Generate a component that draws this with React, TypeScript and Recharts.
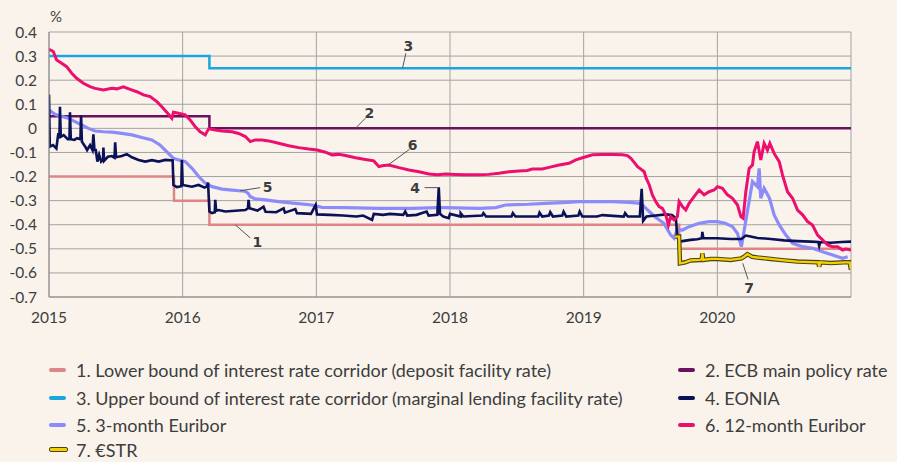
import React from "react";
import {
  LineChart,
  Line,
  XAxis,
  YAxis,
  CartesianGrid,
  ReferenceLine,
  ReferenceDot,
} from "recharts";

type Pt = [number, number];

// ---- categories / ticks ----
const yearTicks = [2015, 2016, 2017, 2018, 2019, 2020, 2021];
const valueTicks = [-0.7, -0.6, -0.5, -0.4, -0.3, -0.2, -0.1, 0, 0.1, 0.2, 0.3, 0.4];

// ---- series (decimal year, %) ----
const depositRate: Pt[] = [
  [2015.0, -0.2], [2015.935, -0.3], [2016.2, -0.4], [2019.715, -0.5], [2021.0, -0.5],
];
const mainRate: Pt[] = [
  [2015.0, 0.05], [2016.2, 0.0], [2021.0, 0.0],
];
const lendingRate: Pt[] = [
  [2015.0, 0.3], [2016.2, 0.25], [2021.0, 0.25],
];

const eonia: Pt[] = [
  [2015.0, 0.14], [2015.006, -0.076], [2015.03, -0.069], [2015.055, -0.083], [2015.07, -0.02],
  [2015.078, -0.04], [2015.082, 0.09], [2015.088, -0.035], [2015.11, -0.028], [2015.14, -0.045],
  [2015.153, -0.045], [2015.157, 0.067], [2015.163, -0.045], [2015.19, -0.048], [2015.21, -0.041],
  [2015.235, -0.045], [2015.24, 0.053], [2015.246, -0.055], [2015.27, -0.075], [2015.285, -0.09],
  [2015.307, -0.07], [2015.325, -0.09], [2015.332, -0.025], [2015.34, -0.09], [2015.35, -0.09],
  [2015.362, -0.138], [2015.375, -0.11], [2015.39, -0.138], [2015.404, -0.13], [2015.407, -0.08],
  [2015.412, -0.135], [2015.44, -0.118], [2015.47, -0.115], [2015.49, -0.122], [2015.495, -0.058],
  [2015.502, -0.12], [2015.545, -0.115], [2015.582, -0.107], [2015.62, -0.12], [2015.67, -0.131],
  [2015.72, -0.138], [2015.77, -0.132], [2015.82, -0.138], [2015.87, -0.131], [2015.925, -0.133],
  [2015.931, -0.235], [2015.956, -0.244], [2015.99, -0.24], [2015.994, -0.131], [2016.0, -0.235],
  [2016.069, -0.242], [2016.119, -0.235], [2016.165, -0.246], [2016.183, -0.24], [2016.19, -0.225],
  [2016.2, -0.345], [2016.219, -0.352], [2016.24, -0.348], [2016.244, -0.297], [2016.25, -0.342],
  [2016.269, -0.339], [2016.319, -0.345], [2016.394, -0.342], [2016.469, -0.339], [2016.488, -0.332],
  [2016.493, -0.297], [2016.5, -0.332], [2016.56, -0.341], [2016.605, -0.325], [2016.62, -0.346],
  [2016.7, -0.348], [2016.755, -0.332], [2016.765, -0.35], [2016.843, -0.335], [2016.855, -0.352],
  [2016.96, -0.355], [2016.995, -0.318], [2017.005, -0.357], [2017.1, -0.359], [2017.2, -0.362],
  [2017.3, -0.366], [2017.35, -0.362], [2017.417, -0.38], [2017.43, -0.355], [2017.5, -0.359],
  [2017.55, -0.355], [2017.65, -0.359], [2017.665, -0.345], [2017.68, -0.362], [2017.75, -0.359],
  [2017.825, -0.345], [2017.84, -0.362], [2017.905, -0.359], [2017.916, -0.245], [2017.925, -0.355],
  [2017.95, -0.366], [2017.99, -0.373], [2018.0, -0.355], [2018.08, -0.366], [2018.08, -0.352],
  [2018.1, -0.366], [2018.24, -0.362], [2018.25, -0.352], [2018.27, -0.366], [2018.46, -0.366],
  [2018.47, -0.352], [2018.49, -0.366], [2018.66, -0.366], [2018.67, -0.35], [2018.69, -0.366],
  [2018.74, -0.362], [2018.75, -0.348], [2018.77, -0.366], [2018.84, -0.362], [2018.85, -0.346],
  [2018.87, -0.366], [2018.96, -0.362], [2018.97, -0.345], [2018.99, -0.366], [2019.1, -0.366],
  [2019.14, -0.36], [2019.3, -0.366], [2019.31, -0.352], [2019.33, -0.366], [2019.42, -0.366],
  [2019.434, -0.251], [2019.445, -0.384], [2019.47, -0.366], [2019.54, -0.362], [2019.614, -0.357],
  [2019.66, -0.36], [2019.69, -0.373], [2019.7, -0.45], [2019.72, -0.47], [2019.75, -0.467],
  [2019.8, -0.463], [2019.85, -0.46], [2019.884, -0.456], [2019.888, -0.43], [2019.895, -0.456],
  [2019.95, -0.456], [2020.0, -0.456], [2020.1, -0.459], [2020.18, -0.459], [2020.213, -0.445],
  [2020.24, -0.448], [2020.3, -0.455], [2020.4, -0.459], [2020.5, -0.465], [2020.6, -0.468],
  [2020.7, -0.47], [2020.755, -0.472], [2020.762, -0.488], [2020.77, -0.472], [2020.85, -0.475],
  [2020.93, -0.472], [2021.0, -0.47],
];

const euribor3m: Pt[] = [
  [2015.0, 0.076], [2015.045, 0.058], [2015.095, 0.049], [2015.145, 0.042], [2015.195, 0.028],
  [2015.245, 0.014], [2015.295, 0.0], [2015.345, -0.011], [2015.407, -0.014], [2015.47, -0.016],
  [2015.545, -0.021], [2015.62, -0.027], [2015.695, -0.038], [2015.77, -0.048], [2015.83, -0.069],
  [2015.88, -0.097], [2015.93, -0.124], [2015.97, -0.131], [2016.02, -0.138], [2016.07, -0.166],
  [2016.12, -0.2], [2016.17, -0.228], [2016.22, -0.242], [2016.295, -0.252], [2016.37, -0.256],
  [2016.445, -0.26], [2016.47, -0.262], [2016.49, -0.27], [2016.505, -0.283], [2016.543, -0.293],
  [2016.618, -0.297], [2016.718, -0.304], [2016.843, -0.311], [2016.968, -0.318], [2017.042, -0.328],
  [2017.217, -0.329], [2017.467, -0.332], [2017.717, -0.332], [2017.904, -0.329], [2017.966, -0.329],
  [2018.216, -0.332], [2018.341, -0.329], [2018.415, -0.318], [2018.59, -0.315], [2018.715, -0.311],
  [2018.84, -0.308], [2018.965, -0.304], [2019.09, -0.304], [2019.215, -0.304], [2019.34, -0.307],
  [2019.43, -0.311], [2019.452, -0.325], [2019.53, -0.366], [2019.6, -0.394], [2019.65, -0.442],
  [2019.676, -0.456], [2019.7, -0.42], [2019.739, -0.422], [2019.789, -0.408], [2019.864, -0.394],
  [2019.938, -0.387], [2020.0, -0.387], [2020.06, -0.394], [2020.113, -0.408], [2020.15, -0.435],
  [2020.18, -0.491], [2020.263, -0.221], [2020.3, -0.242], [2020.313, -0.166], [2020.325, -0.29],
  [2020.35, -0.249], [2020.39, -0.29], [2020.425, -0.359], [2020.463, -0.401], [2020.513, -0.443],
  [2020.563, -0.477], [2020.638, -0.491], [2020.712, -0.498], [2020.787, -0.512], [2020.862, -0.526],
  [2020.937, -0.539], [2020.975, -0.533],
];

const euribor12m: Pt[] = [
  [2015.0, 0.328], [2015.032, 0.319], [2015.057, 0.284], [2015.095, 0.27], [2015.132, 0.256],
  [2015.17, 0.229], [2015.207, 0.208], [2015.257, 0.187], [2015.307, 0.173], [2015.345, 0.166],
  [2015.407, 0.159], [2015.47, 0.166], [2015.507, 0.164], [2015.557, 0.172], [2015.607, 0.162],
  [2015.657, 0.152], [2015.707, 0.139], [2015.757, 0.132], [2015.807, 0.111], [2015.844, 0.09],
  [2015.881, 0.067], [2015.919, 0.042], [2015.931, 0.067], [2015.969, 0.063], [2016.019, 0.056],
  [2016.056, 0.035], [2016.094, 0.007], [2016.131, -0.014], [2016.169, -0.027], [2016.194, -0.002],
  [2016.244, -0.007], [2016.294, -0.011], [2016.369, -0.014], [2016.419, -0.021], [2016.469, -0.034],
  [2016.506, -0.055], [2016.543, -0.048], [2016.593, -0.048], [2016.643, -0.052], [2016.718, -0.062],
  [2016.793, -0.072], [2016.868, -0.08], [2016.943, -0.086], [2017.006, -0.09], [2017.068, -0.099],
  [2017.118, -0.11], [2017.168, -0.108], [2017.218, -0.113], [2017.293, -0.122], [2017.367, -0.129],
  [2017.43, -0.135], [2017.468, -0.159], [2017.493, -0.155], [2017.543, -0.152], [2017.618, -0.163],
  [2017.693, -0.173], [2017.768, -0.18], [2017.843, -0.189], [2017.905, -0.193], [2017.968, -0.189],
  [2018.041, -0.191], [2018.116, -0.193], [2018.216, -0.193], [2018.291, -0.191], [2018.366, -0.186],
  [2018.441, -0.18], [2018.516, -0.177], [2018.578, -0.175], [2018.616, -0.169], [2018.691, -0.169],
  [2018.741, -0.162], [2018.816, -0.152], [2018.891, -0.145], [2018.941, -0.131], [2018.991, -0.122],
  [2019.066, -0.11], [2019.141, -0.108], [2019.216, -0.108], [2019.291, -0.11], [2019.328, -0.113],
  [2019.353, -0.124], [2019.378, -0.141], [2019.403, -0.159], [2019.428, -0.169], [2019.453, -0.18],
  [2019.466, -0.205], [2019.491, -0.235], [2019.514, -0.276], [2019.539, -0.304], [2019.564, -0.325],
  [2019.589, -0.332], [2019.614, -0.359], [2019.634, -0.401], [2019.651, -0.366], [2019.676, -0.38],
  [2019.701, -0.366], [2019.714, -0.304], [2019.739, -0.325], [2019.764, -0.339], [2019.789, -0.311],
  [2019.826, -0.283], [2019.864, -0.256], [2019.901, -0.276], [2019.938, -0.263], [2019.976, -0.256],
  [2020.001, -0.242], [2020.038, -0.249], [2020.076, -0.276], [2020.113, -0.29], [2020.151, -0.318],
  [2020.176, -0.366], [2020.193, -0.373], [2020.213, -0.263], [2020.238, -0.166], [2020.263, -0.152],
  [2020.275, -0.097], [2020.3, -0.055], [2020.325, -0.131], [2020.35, -0.062], [2020.375, -0.09],
  [2020.393, -0.062], [2020.425, -0.104], [2020.463, -0.138], [2020.488, -0.194], [2020.525, -0.263],
  [2020.563, -0.29], [2020.6, -0.339], [2020.638, -0.359], [2020.675, -0.387], [2020.712, -0.401],
  [2020.75, -0.443], [2020.787, -0.463], [2020.825, -0.484], [2020.862, -0.491], [2020.9, -0.491],
  [2020.937, -0.505], [2020.962, -0.501], [2021.0, -0.505],
];

const estr: Pt[] = [
  [2019.684, -0.449], [2019.714, -0.449], [2019.72, -0.56], [2019.76, -0.556], [2019.8, -0.548],
  [2019.87, -0.546], [2019.884, -0.544], [2019.888, -0.519], [2019.895, -0.546], [2019.95, -0.542],
  [2020.0, -0.542], [2020.1, -0.546], [2020.18, -0.54], [2020.2, -0.533], [2020.225, -0.522],
  [2020.26, -0.533], [2020.3, -0.536], [2020.4, -0.542], [2020.5, -0.548], [2020.6, -0.553],
  [2020.7, -0.555], [2020.755, -0.556], [2020.762, -0.574], [2020.77, -0.556], [2020.85, -0.559],
  [2020.95, -0.556], [2020.99, -0.556], [2021.0, -0.587],
];

// ---- annotations: label position, leader start, leader end ----
type Note = { label: string; at: Pt; from: Pt; to: Pt };
const notes: Note[] = [
  { label: "3", at: [2017.689, 0.342], from: [2017.67, 0.312], to: [2017.645, 0.25] },
  { label: "2", at: [2017.397, 0.065], from: [2017.367, 0.042], to: [2017.292, 0.0] },
  { label: "6", at: [2017.72, -0.07], from: [2017.697, -0.087], to: [2017.537, -0.152] },
  { label: "5", at: [2016.635, -0.245], from: [2016.58, -0.246], to: [2016.43, -0.259] },
  { label: "4", at: [2017.74, -0.246], from: [2017.81, -0.246], to: [2017.915, -0.246] },
  { label: "1", at: [2016.558, -0.471], from: [2016.506, -0.455], to: [2016.393, -0.4] },
  { label: "7", at: [2020.238, -0.664], from: [2020.23, -0.627], to: [2020.19, -0.56] },
];

const legendLabels = [
  "1. Lower bound of interest rate corridor (deposit facility rate)",
  "2. ECB main policy rate",
  "3. Upper bound of interest rate corridor (marginal lending facility rate)",
  "4. EONIA",
  "5. 3-month Euribor",
  "6. 12-month Euribor",
  "7. €STR",
];

const COLORS = {
  deposit: "#de8585",
  main: "#6b0f5f",
  lending: "#1ca6e0",
  eonia: "#0b1157",
  e3m: "#8b8cfa",
  e12m: "#ec0f6e",
  estr: "#f5cf00",
  estrEdge: "#4a4410",
};
const legendColors = [
  COLORS.deposit, COLORS.main, COLORS.lending, COLORS.eonia, COLORS.e3m, COLORS.e12m, COLORS.estr,
];

const rows = (pts: Pt[]) => pts.map(([t, v]) => ({ t, v }));

const FONT = "Lato, 'Open Sans', sans-serif";
const TEXT = "#3d3d3d";
const BG = "#f9f3ec";

const fmtY = (v: number) => (Math.abs(v) < 1e-9 ? "0" : v.toFixed(1));
const fmtX = (v: number) => (v === 2021 ? "" : String(v));

export default function App() {
  const legendRowsY = [370, 398, 425, 450];
  return (
    <div
      style={{
        position: "absolute",
        left: 0,
        top: 0,
        width: 897,
        height: 462,
        background: BG,
        fontFamily: FONT,
        overflow: "hidden",
      }}
    >
      <div
        style={{
          position: "absolute",
          left: 50,
          top: 7,
          fontSize: 15,
          color: TEXT,
          lineHeight: "18px",
        }}
      >
        %
      </div>
      <LineChart
        width={897}
        height={335}
        margin={{ top: 32, right: 46, bottom: 8, left: 9 }}
      >
        <CartesianGrid stroke="#a3a3a3" strokeWidth={1} />
        <XAxis
          dataKey="t"
          type="number"
          domain={[2015, 2021]}
          ticks={yearTicks}
          tickFormatter={fmtX}
          allowDataOverflow
          height={30}
          tickLine={false}
          tickSize={0}
          tickMargin={15}
          axisLine={{ stroke: "#8c8c8c" }}
          tick={{ fill: TEXT, fontSize: 15.5, fontFamily: FONT }}
        />
        <YAxis
          type="number"
          domain={[-0.7, 0.4]}
          ticks={valueTicks}
          tickFormatter={fmtY}
          allowDataOverflow
          width={40}
          tickLine={false}
          tickSize={0}
          tickMargin={12}
          axisLine={{ stroke: "#8c8c8c" }}
          tick={{ fill: TEXT, fontSize: 15.5, fontFamily: FONT }}
        />
        <Line data={rows(depositRate)} dataKey="v" type="stepAfter" stroke={COLORS.deposit} strokeWidth={2.5} dot={false} isAnimationActive={false} />
        <Line data={rows(lendingRate)} dataKey="v" type="stepAfter" stroke={COLORS.lending} strokeWidth={2.5} dot={false} isAnimationActive={false} />
        <Line data={rows(mainRate)} dataKey="v" type="stepAfter" stroke={COLORS.main} strokeWidth={2.5} dot={false} isAnimationActive={false} />
        <Line data={rows(euribor3m)} dataKey="v" type="linear" stroke={COLORS.e3m} strokeWidth={3.2} dot={false} isAnimationActive={false} />
        <Line data={rows(eonia)} dataKey="v" type="linear" stroke={COLORS.eonia} strokeWidth={2.6} dot={false} isAnimationActive={false} />
        <Line data={rows(euribor12m)} dataKey="v" type="linear" stroke={COLORS.e12m} strokeWidth={3} dot={false} isAnimationActive={false} />
        <Line data={rows(estr)} dataKey="v" type="linear" stroke={COLORS.estrEdge} strokeWidth={4.5} dot={false} isAnimationActive={false} />
        <Line data={rows(estr)} dataKey="v" type="linear" stroke={COLORS.estr} strokeWidth={2.3} dot={false} isAnimationActive={false} />
        {notes.map((n) => (
          <ReferenceLine
            key={"l" + n.label}
            segment={[
              { x: n.from[0], y: n.from[1] },
              { x: n.to[0], y: n.to[1] },
            ]}
            stroke="#555"
            strokeWidth={1}
            ifOverflow="visible"
          />
        ))}
        {notes.map((n) => (
          <ReferenceDot
            key={"d" + n.label}
            x={n.at[0]}
            y={n.at[1]}
            r={0}
            fill="none"
            stroke="none"
            ifOverflow="visible"
            label={{
              value: n.label,
              position: "center",
              fill: TEXT,
              fontSize: 14,
              fontWeight: 700,
              fontFamily: "'DejaVu Sans', sans-serif",
            }}
          />
        ))}
      </LineChart>
      {legendLabels.map((label, i) => {
        const col = i % 2;
        const row = Math.floor(i / 2);
        const cy = legendRowsY[row];
        const swLeft = col === 0 ? 49 : 678;
        const txLeft = col === 0 ? 76 : 705;
        const isEstr = i === 6;
        return (
          <React.Fragment key={label}>
            <div
              style={{
                position: "absolute",
                left: swLeft,
                top: cy - (isEstr ? 3 : 2),
                width: 17,
                height: isEstr ? 3 : 4,
                borderRadius: 2,
                background: legendColors[i],
                border: isEstr ? `1.2px solid ${COLORS.estrEdge}` : "none",
              }}
            />
            <div
              style={{
                position: "absolute",
                left: txLeft,
                top: cy - 8,
                fontSize: 18,
                lineHeight: "16px",
                color: TEXT,
                whiteSpace: "nowrap",
              }}
            >
              {label}
            </div>
          </React.Fragment>
        );
      })}
    </div>
  );
}
